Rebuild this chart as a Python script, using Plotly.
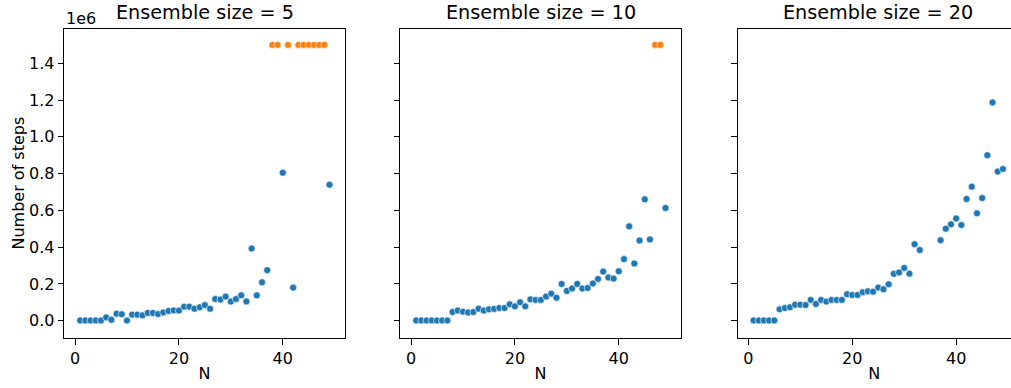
import plotly.graph_objects as go

# ---- data ----
n_values = list(range(1, 50))
max_steps = 1500000

steps_ens5 = [1500, 1500, 1500, 1500, 1500, 18000, 5000, 38000, 35000, 1500,
              33000, 33000, 29000, 42000, 42000, 36000, 45000, 53000, 56000, 55000,
              76000, 76000, 65000, 73000, 85000, 65000, 118000, 115000, 131000, 104000,
              118000, 138000, 105000, 393000, 138000, 209000, 275000, 1500000, 1500000, 805000,
              1500000, 180000, 1500000, 1500000, 1500000, 1500000, 1500000, 1500000, 740000]

steps_ens10 = [1500, 1500, 1500, 1500, 1500, 1500, 1500, 47000, 55000, 49000,
               45000, 47000, 65000, 55000, 62000, 64000, 69000, 69000, 89000, 78000,
               100000, 78000, 116000, 113000, 113000, 131000, 147000, 125000, 200000, 162000,
               175000, 200000, 175000, 178000, 202000, 227000, 267000, 235000, 229000, 269000,
               335000, 513000, 311000, 436000, 660000, 442000, 1500000, 1500000, 613000]

steps_ens20 = [1500, 1500, 1500, 1500, 1500, 62000, 69000, 73000, 87000, 87000,
               85000, 113000, 91000, 113000, 104000, 113000, 113000, 113000, 144000, 140000,
               140000, 155000, 160000, 158000, 180000, 171000, 198000, 255000, 262000, 287000,
               256000, 416000, 384000, None, None, None, 438000, 500000, 524000, 556000,
               520000, 662000, 729000, 584000, 667000, 900000, 1187000, 811000, 825000]

ensemble_sizes = [5, 10, 20]
panel_steps = [steps_ens5, steps_ens10, steps_ens20]

y_tickvals = [0, 200000, 400000, 600000, 800000, 1000000, 1200000, 1400000]
y_ticktext = ["0.0", "0.2", "0.4", "0.6", "0.8", "1.0", "1.2", "1.4"]
x_tickvals = [0, 20, 40]

color_done = "#1f77b4"
color_limit = "#ff7f0e"

# ---- layout geometry (pixels) ----
W, H = 1011, 388
ax_left = [64.3, 400.3, 737.7]
ax_width = 280.6
ax_top, ax_bottom = 28.7, 338.3
px_per_unit = ax_width / 54.02
x_lo = -2.06

font_family = "DejaVu Sans"
tick_size = 16
title_size = 19.2

fig = go.Figure()

for i, (ens, steps) in enumerate(zip(ensemble_sizes, panel_steps)):
    xa = "x" if i == 0 else f"x{i+1}"
    ya = "y" if i == 0 else f"y{i+1}"
    xs_d, ys_d, xs_l, ys_l = [], [], [], []
    for n, s in zip(n_values, steps):
        if s is None:
            continue
        if s >= max_steps:
            xs_l.append(n); ys_l.append(s)
        else:
            xs_d.append(n); ys_d.append(s)
    for xs, ys, col in [(xs_d, ys_d, color_done), (xs_l, ys_l, color_limit)]:
        fig.add_trace(go.Scatter(
            x=xs, y=ys, mode="markers", xaxis=xa, yaxis=ya, showlegend=False,
            marker=dict(size=7, color=col, line=dict(color="white", width=0.6)),
            cliponaxis=False,
        ))

layout = dict(
    width=W, height=H,
    margin=dict(l=0, r=0, t=0, b=0),
    paper_bgcolor="white", plot_bgcolor="white",
    font=dict(family=font_family, size=tick_size, color="black"),
    showlegend=False,
)

annotations = []
for i, ens in enumerate(ensemble_sizes):
    left = ax_left[i]
    right = min(left + ax_width, W)
    d0, d1 = left / W, right / W
    x_hi = x_lo + (right - left) / px_per_unit
    xkey = "xaxis" if i == 0 else f"xaxis{i+1}"
    ykey = "yaxis" if i == 0 else f"yaxis{i+1}"
    layout[xkey] = dict(
        domain=[d0, d1], range=[x_lo, x_hi], anchor="y" if i == 0 else f"y{i+1}",
        showgrid=False, zeroline=False, showline=True, linecolor="black", linewidth=1.2,
        mirror=True, ticks="outside", ticklen=5.5, tickwidth=1.2, tickcolor="black",
        tickvals=x_tickvals, tickfont=dict(size=tick_size, family=font_family, color="black"),
        title=dict(text="N", font=dict(size=tick_size, family=font_family, color="black"), standoff=0),
    )
    layout[ykey] = dict(
        domain=[1 - ax_bottom / H, 1 - ax_top / H], range=[-95700, 1588000],
        anchor="x" if i == 0 else f"x{i+1}",
        showgrid=False, zeroline=False, showline=True, linecolor="black", linewidth=1.2,
        mirror=(i < 2), ticks="outside", ticklen=5.5, tickwidth=1.2, tickcolor="black",
        tickvals=y_tickvals, ticktext=y_ticktext if i == 0 else [""] * len(y_tickvals),
        showticklabels=(i == 0),
        tickfont=dict(size=tick_size, family=font_family, color="black"),
    )
    annotations.append(dict(
        text=f"Ensemble size = {ens}", xref="paper", yref="paper",
        x=(left + ax_width / 2) / W, y=1 - ax_top / H, xanchor="center", yanchor="bottom",
        yshift=3, showarrow=False, font=dict(size=title_size, family=font_family, color="black"),
    ))

annotations.append(dict(
    text="1e6", xref="paper", yref="paper", x=ax_left[0] / W, y=1 - ax_top / H,
    xanchor="left", yanchor="bottom", yshift=-1, showarrow=False,
    font=dict(size=tick_size, family=font_family, color="black"),
))
annotations.append(dict(
    text="Number of steps", xref="paper", yref="paper", x=18 / W,
    y=1 - (ax_top + ax_bottom) / 2 / H, xanchor="center", yanchor="middle",
    textangle=-90, showarrow=False, font=dict(size=tick_size, family=font_family, color="black"),
))
layout["annotations"] = annotations

fig.update_layout(**layout)
fig.write_html("out.html")
